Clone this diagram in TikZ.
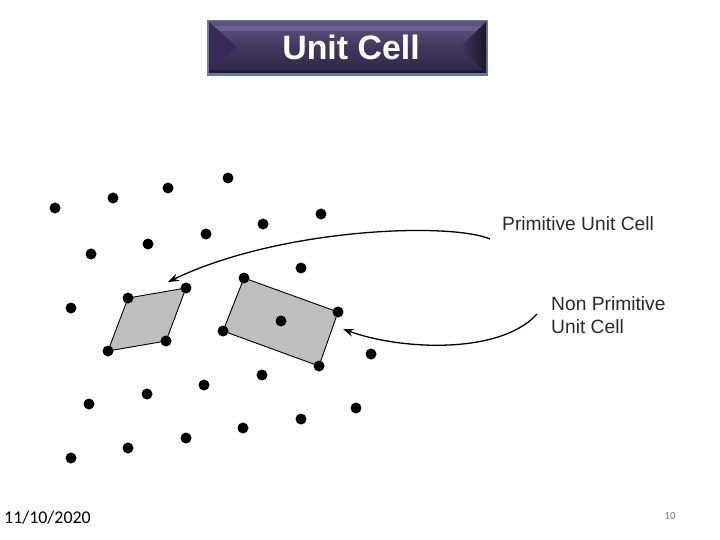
\documentclass[tikz,border=0pt]{standalone}
\usepackage{fontspec}
\setmainfont{Liberation Sans}
\newfontfamily\calib{Carlito}
\usetikzlibrary{arrows.meta,backgrounds}
\definecolor{facetop}{HTML}{5E5382}
\definecolor{facemid}{HTML}{41375C}
\definecolor{facebot}{HTML}{2E2745}
\definecolor{bevleft}{HTML}{352A58}
\definecolor{bevright}{HTML}{1B1729}
\definecolor{boxedge}{HTML}{6A7A95}
\definecolor{cellgray}{HTML}{BEBEBE}
\definecolor{labtext}{HTML}{2A2A2A}
\tikzset{
  dot/.style={circle,fill=black,inner sep=0pt,minimum size=11bp},
  cell/.style={fill=cellgray,draw=black,line width=0.9bp},
  pointer/.style={draw=black,line width=1.3bp,-{Stealth[length=11bp,width=8bp,inset=4bp]}},
  lab/.style={text=labtext,font=\fontsize{19.3}{23}\selectfont,inner sep=0pt,align=left}
}
\begin{document}
\begin{tikzpicture}[x=1bp,y=-1bp]
\useasboundingbox (0,0) rectangle (720,540);
% title box
\fill[boxedge] (207,20) rectangle (488,76);
\shade[top color=facetop, bottom color=facebot, middle color=facemid] (209,22) rectangle (486,73);
\fill[facetop!70!white,opacity=0.35] (209,26) rectangle (486,31);
\fill[bevleft] (209,22) -- (237,47) -- (209,73) -- cycle;
\shade[left color=facemid, right color=bevright] (460,47) -- (486,22) -- (486,73) -- cycle;
\fill[facebot!70!black] (209,70) rectangle (486,73);
\node[text=white,font=\bfseries\fontsize{34}{40}\selectfont,inner sep=0pt] (title) at (351,47) {Unit Cell};
% lattice points
\foreach \n/\x/\y in {a0/55/208,a1/113/198,a2/168/188,a3/228/178,
  b0/91/254,b1/148/244,b2/206/234,b3/263/224,b4/321/214,
  c0/71/308,c1/128/298,c2/186/288,c3/244/278,c4/301/268,
  e1/108/351,e2/166/341,e3/223/331,e4/281/321,e5/338/312,
  f0/89/404,f1/147/394,f2/204/385,f3/262/375,f4/319/366,f5/371/354,
  g0/71/458,g1/128/448,g2/186/438,g3/243/428,g4/301/419,g5/356/408}
  \node[dot] (\n) at (\x,\y) {};
% cells
\begin{pgfonlayer}{background}
\path[cell] (c1.center) -- (c2.center) -- (e2.center) -- (e1.center) -- cycle;
\path[cell] (c3.center) -- (e5.center) -- (f4.center) -- (e3.center) -- cycle;
\end{pgfonlayer}
% labels
\node[lab,anchor=base west] (prim) at (502,231) {Primitive Unit Cell};
\node[lab,anchor=base west] (nonprim) at (551,333) {Non Primitive\\[-0.5bp]Unit Cell};
% arrows
\coordinate (ps) at (490,239);
\coordinate (pe) at (168,282);
\coordinate (ns) at (537,314);
\coordinate (ne) at (343,329);
\draw[pointer] (ps) .. controls (450,222) and (280,228) .. (pe);
\draw[pointer] (ns) .. controls (500,355) and (400,350) .. (ne);
% footer
\node[anchor=base west,inner sep=0pt,font=\calib\fontsize{18}{20}\selectfont] (date) at (4,523) {11/10/2020};
\node[anchor=base,inner sep=0pt,text=black!50,font=\calib\fontsize{11}{12}\selectfont] (pnum) at (670,519) {10};
\end{tikzpicture}
\end{document}
